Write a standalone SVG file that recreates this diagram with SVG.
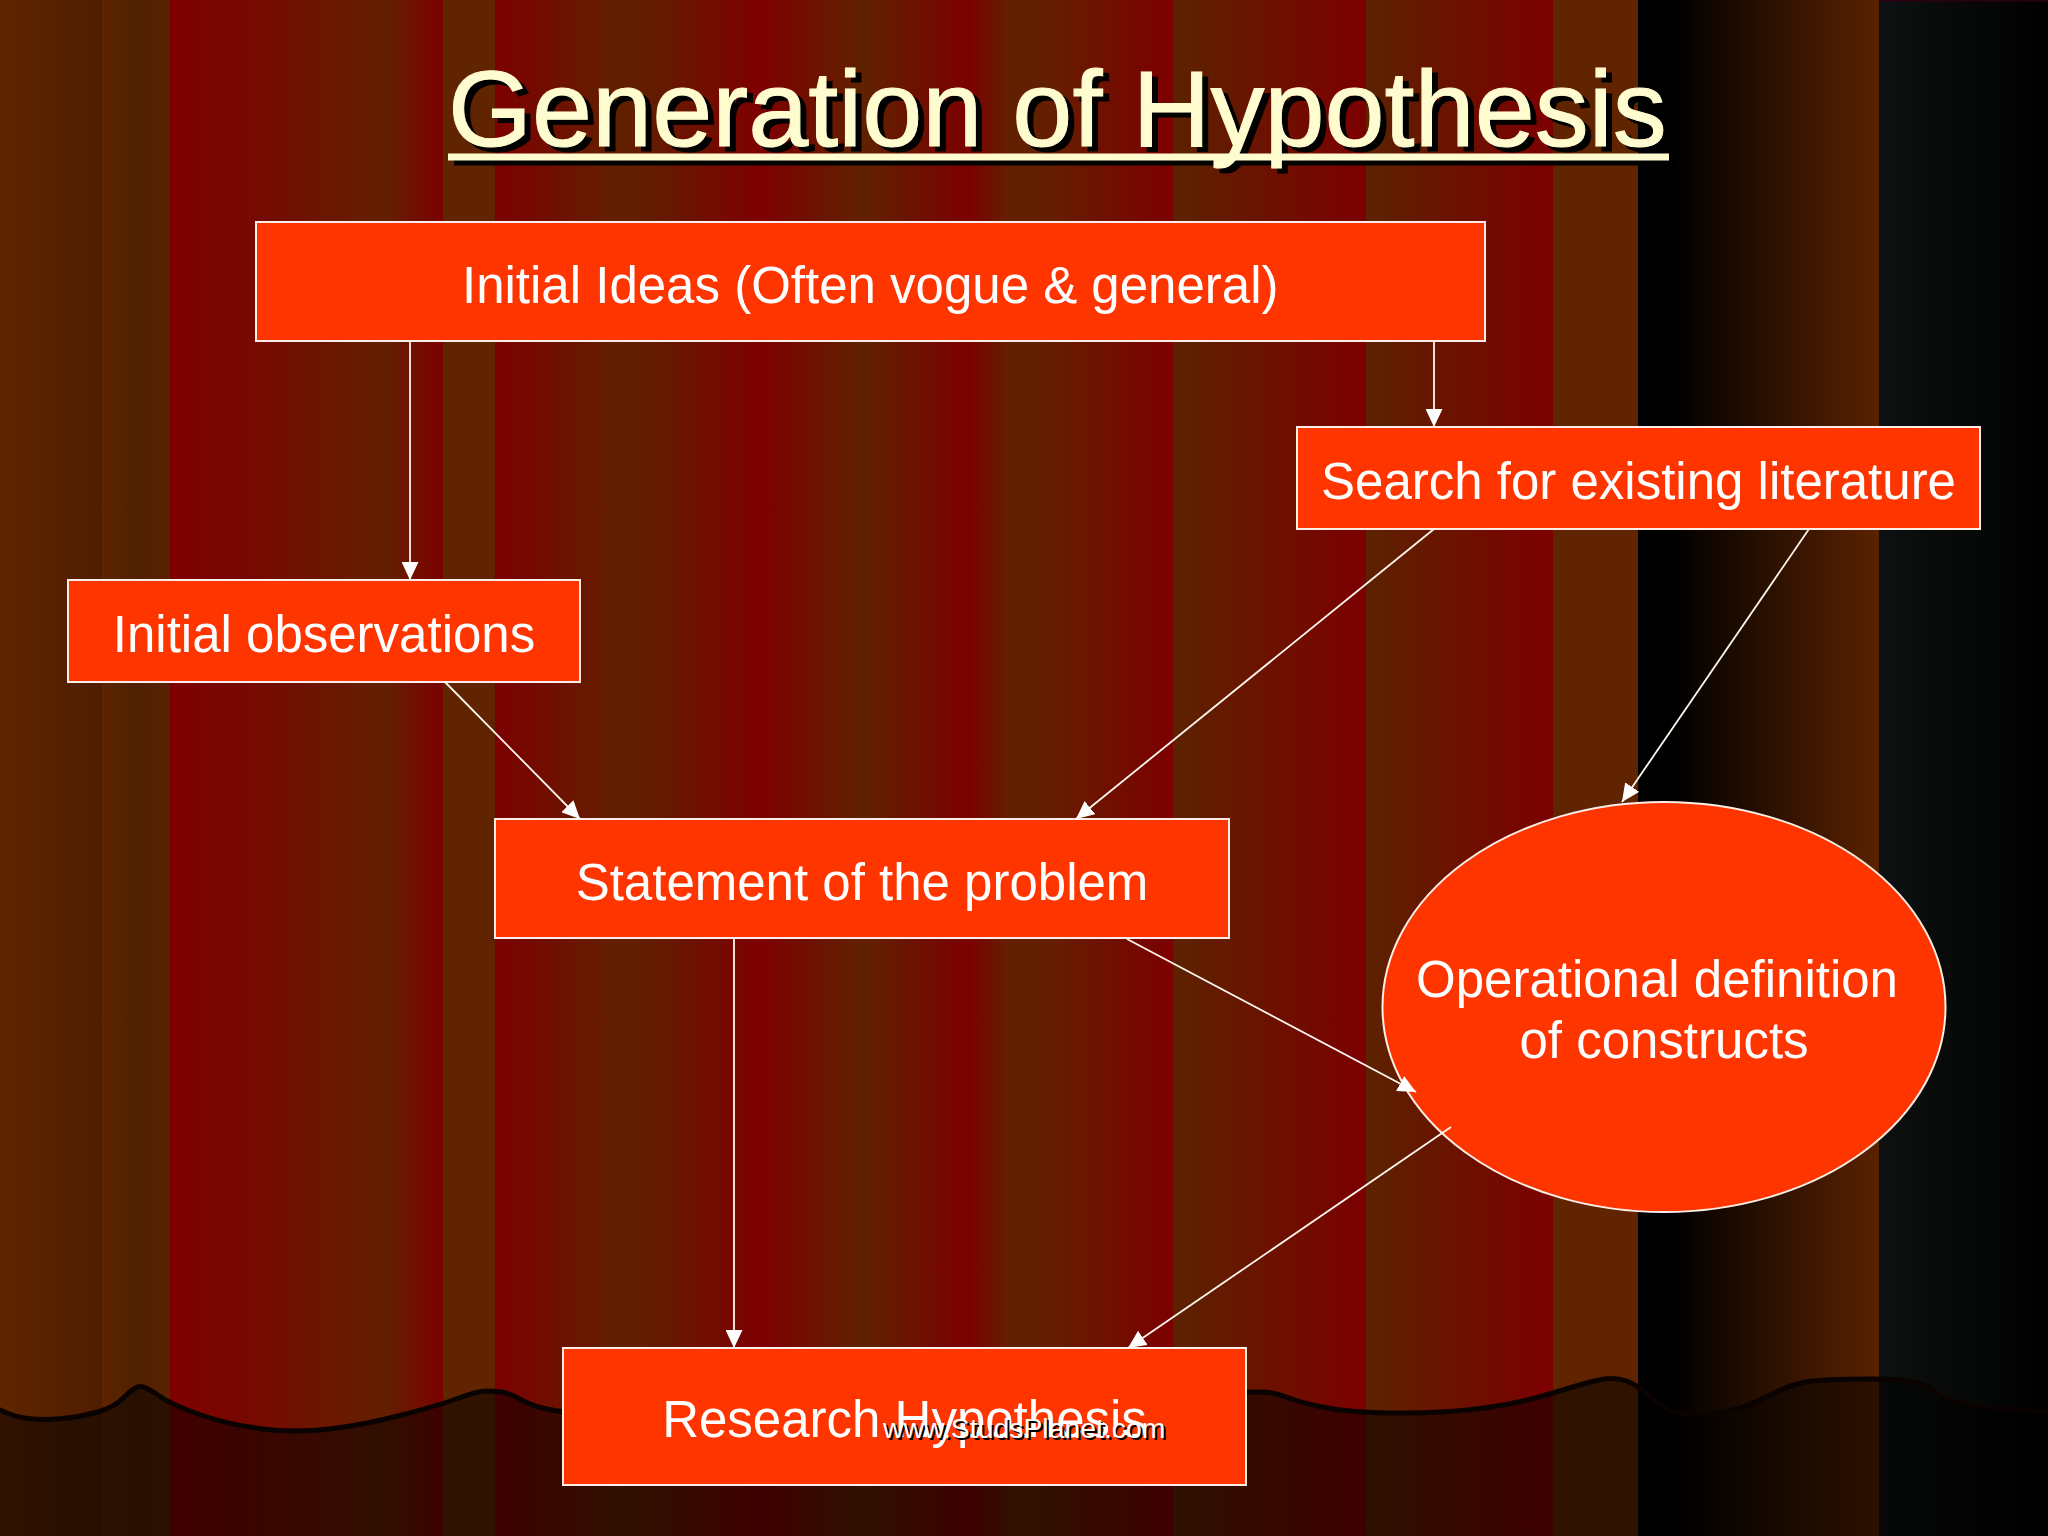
<svg xmlns="http://www.w3.org/2000/svg" width="2048" height="1536" viewBox="0 0 2048 1536">
  <style>
    text { font-family: "Liberation Sans", Arial, sans-serif; }
    .box { fill: #ff3500; stroke: #fbeee6; stroke-width: 2; }
    .lbl { fill: #fff; font-size: 51px; }
    .mid { text-anchor: middle; }
    .ttl { font-size: 108px; stroke-width: 1; }
    .wm { font-size: 28.4px; }
    .link { fill: none; stroke: #fff8f0; stroke-width: 1.8; marker-end: url(#head); }
  </style>
  <defs>
    <marker id="head" markerUnits="userSpaceOnUse" markerWidth="18" markerHeight="17" viewBox="0 0 18 17" refX="18" refY="8.5" orient="auto">
      <path d="M0,0 L18,8.5 L0,17 z" fill="#fff"/>
    </marker>
    <linearGradient id="stripes" gradientUnits="userSpaceOnUse" x1="0" y1="0" x2="2048" y2="0">
      <stop offset="0" stop-color="#602400"/>
      <stop offset=".0498" stop-color="#4f1e00"/>
      <stop offset=".0498" stop-color="#5e2400"/>
      <stop offset=".0669" stop-color="#4f2000"/>
      <stop offset=".0830" stop-color="#5a2200"/>
      <stop offset=".0830" stop-color="#7f0000"/>
      <stop offset=".1196" stop-color="#770800"/>
      <stop offset=".1885" stop-color="#632000"/>
      <stop offset=".2163" stop-color="#7c0000"/>
      <stop offset=".2163" stop-color="#602400"/>
      <stop offset=".2417" stop-color="#602400"/>
      <stop offset=".2417" stop-color="#7c0000"/>
      <stop offset=".3013" stop-color="#622000"/>
      <stop offset=".3223" stop-color="#651a00"/>
      <stop offset=".3716" stop-color="#7e0000"/>
      <stop offset=".4214" stop-color="#5f2200"/>
      <stop offset=".4727" stop-color="#7c0000"/>
      <stop offset=".4932" stop-color="#632000"/>
      <stop offset=".5078" stop-color="#632000"/>
      <stop offset=".5728" stop-color="#7c0000"/>
      <stop offset=".5728" stop-color="#5c2200"/>
      <stop offset=".667" stop-color="#7c0000"/>
      <stop offset=".667" stop-color="#5c2200"/>
      <stop offset=".7583" stop-color="#7c0000"/>
      <stop offset=".7583" stop-color="#602400"/>
      <stop offset=".7998" stop-color="#602400"/>
      <stop offset=".7998" stop-color="#000"/>
      <stop offset=".8154" stop-color="#000"/>
      <stop offset=".9175" stop-color="#5a2200"/>
      <stop offset=".9175" stop-color="#0e1111"/>
      <stop offset="1" stop-color="#000"/>
    </linearGradient>
  </defs>

  <g id="background">
    <rect width="2048" height="1536" fill="url(#stripes)"/>
    <rect x="1879" y="0" width="169" height="1.5" fill="#2c0014"/>
    <path d="M-5,1408 L7,1413 Q19,1418 32.5,1419 Q46,1420 63,1418.5 Q80,1417 97.5,1412 Q115,1407 124.5,1397 Q134,1387 139.5,1386.5 Q145,1386 158.5,1395.5 Q172,1405 201,1415 Q230,1425 262.5,1429 Q295,1433 329.5,1429 Q364,1425 402,1415 Q440,1405 459,1398 Q478,1391 486,1391 Q494,1391 501.5,1392 Q509,1393 521.5,1400 Q534,1407 552,1410 L570,1413 L1240,1393 L1249,1392 L1261.5,1392 Q1274,1392 1287.5,1397.5 Q1301,1403 1327.5,1408 Q1354,1413 1401,1413 Q1448,1413 1484.5,1408 Q1521,1403 1554.5,1392.5 Q1588,1382 1601.5,1379.5 Q1615,1377 1626.5,1381 Q1638,1385 1653,1399 Q1668,1413 1685,1414.5 Q1702,1416 1723.5,1412 Q1745,1408 1767,1396.5 Q1789,1385 1805.5,1382 Q1822,1379 1872,1379 Q1922,1379 1932,1389.5 Q1942,1400 1965.5,1404 Q1989,1408 2021,1410 L2053,1412 L2053,1540 L-5,1540 Z" fill="#000" fill-opacity=".5" stroke="#0a0302" stroke-width="5" stroke-linejoin="round"/>
  </g>

  <g id="title">
    <rect x="454" y="158.5" width="1221" height="7" fill="#000"/>
    <text class="ttl" x="454" y="151" fill="#000" stroke="#000">Generation of Hypothesis</text>
    <rect x="448" y="153.5" width="1221" height="7" fill="#fffdd0"/>
    <text class="ttl" x="448" y="146" fill="#fffdd0" stroke="#fffdd0">Generation of Hypothesis</text>
  </g>

  <g id="node-initial-ideas">
    <rect class="box" x="256" y="222" width="1229" height="119"/>
    <text class="lbl" x="462" y="303">Initial Ideas (Often vogue &amp; general)</text>
  </g>
  <g id="node-search">
    <rect class="box" x="1297" y="427" width="683" height="102"/>
    <text class="lbl mid" x="1638.5" y="499">Search for existing literature</text>
  </g>
  <g id="node-observations">
    <rect class="box" x="68" y="580" width="512" height="102"/>
    <text class="lbl mid" x="324" y="652">Initial observations</text>
  </g>
  <g id="node-statement">
    <rect class="box" x="495" y="819" width="734" height="119"/>
    <text class="lbl mid" x="862" y="900">Statement of the problem</text>
  </g>
  <g id="node-operational">
    <ellipse class="box" cx="1664" cy="1007" rx="281.5" ry="205"/>
    <text class="lbl mid" x="1657" y="997">Operational definition</text>
    <text class="lbl mid" x="1664" y="1058">of constructs</text>
  </g>
  <g id="node-research">
    <rect class="box" x="563" y="1348" width="683" height="137"/>
    <text class="lbl mid" x="904.5" y="1437">Research Hypothesis</text>
  </g>

  <g id="connectors">
    <line class="link" x1="410" y1="341" x2="410" y2="580"/>
    <line class="link" x1="1434" y1="341" x2="1434" y2="427"/>
    <line class="link" x1="445" y1="682" x2="580" y2="819"/>
    <line class="link" x1="1434" y1="529" x2="1076" y2="819"/>
    <line class="link" x1="1809" y1="529" x2="1622" y2="802"/>
    <line class="link" x1="734" y1="938" x2="734" y2="1348"/>
    <line class="link" x1="1127" y1="939" x2="1416" y2="1092"/>
    <line class="link" x1="1451" y1="1127" x2="1128" y2="1348"/>
  </g>

  <g id="watermark">
    <text class="wm" x="885" y="1440" fill="#000">www.StudsPlanet.com</text>
    <text class="wm" x="883" y="1438" fill="#fff">www.StudsPlanet.com</text>
  </g>
</svg>
